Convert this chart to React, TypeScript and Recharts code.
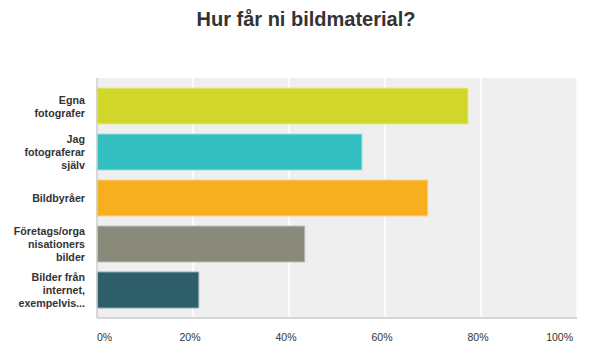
import React from "react";
import { BarChart, Bar, XAxis, YAxis, CartesianGrid, Cell } from "recharts";

const categories = [
  "Egna fotografer",
  "Jag fotograferar själv",
  "Bildbyråer",
  "Företags/organisationers bilder",
  "Bilder från internet, exempelvis...",
];
const categoryLines = [
  ["Egna", "fotografer"],
  ["Jag", "fotograferar", "själv"],
  ["Bildbyråer"],
  ["Företags/orga", "nisationers", "bilder"],
  ["Bilder från", "internet,", "exempelvis..."],
];
const values = [77.3, 55.2, 68.9, 43.3, 21.2];
const colors = ["#D0D62A", "#33BEBF", "#F6AF1F", "#898A79", "#2F5F6B"];
const strokes = ["#E6EA98", "#9EDDDE", "#F9D38C", "#C4C5BB", "#8FA8AE"];
const xTicks = [0, 20, 40, 60, 80, 100];
const title = "Hur får ni bildmaterial?";

const data = categories.map((c, i) => ({ name: c, value: values[i], idx: i }));

const FONT = "'Liberation Sans', Arial, sans-serif";

const YTick = (props: any) => {
  const { x, y, payload } = props;
  const lines = categoryLines[payload.index] || [payload.value];
  const lh = 13;
  const startDy = -((lines.length - 1) * lh) / 2 + 4;
  return (
    <text x={x} y={y} textAnchor="end" fill="#333" fontFamily={FONT} fontSize={10.7} fontWeight="bold">
      {lines.map((l: string, i: number) => (
        <tspan key={i} x={x} dy={i === 0 ? startDy : lh}>
          {l}
        </tspan>
      ))}
    </text>
  );
};

const XTick = (props: any) => {
  const { x, y, payload, index } = props;
  const last = xTicks.length - 1;
  let anchor: "start" | "middle" | "end" = "middle";
  let dx = -3;
  if (index === 0) {
    anchor = "start";
    dx = 0;
  } else if (index === last) {
    anchor = "end";
    dx = -4;
  }
  return (
    <text x={x + dx} y={y + 21} textAnchor={anchor} fill="#333" fontFamily={FONT} fontSize={10.5}>
      {payload.value}%
    </text>
  );
};

export default function App() {
  return (
    <div style={{ position: "absolute", left: 0, top: 0, width: 605, height: 358, background: "#fff" }}>
      <div
        style={{
          position: "absolute",
          left: 0,
          top: 9,
          width: 612,
          textAlign: "center",
          fontFamily: FONT,
          fontWeight: "bold",
          fontSize: 20,
          lineHeight: "20px",
          color: "#333",
        }}
      >
        {title}
      </div>
      <BarChart
        width={605}
        height={358}
        data={data}
        layout="vertical"
        margin={{ top: 78, right: 28, bottom: 0, left: 0 }}
      >
        <CartesianGrid horizontal={false} vertical={true} fill="#EFEFEF" stroke="#FFFFFF" strokeWidth={1.5} />
        <XAxis
          type="number"
          domain={[0, 100]}
          ticks={xTicks}
          interval={0}
          height={40}
          axisLine={{ stroke: "#CCCCCC", strokeWidth: 1.5 }}
          tickLine={false}
          tickSize={0}
          tick={<XTick />}
        />
        <YAxis
          type="category"
          dataKey="name"
          width={97}
          interval={0}
          padding={{ top: 5, bottom: 5 }}
          axisLine={{ stroke: "#CCCCCC", strokeWidth: 1.5 }}
          tickLine={false}
          tickSize={0}
          tickMargin={12}
          tick={<YTick />}
        />
        <Bar dataKey="value" barSize={36} isAnimationActive={false}>
          {data.map((d, i) => (
            <Cell key={i} fill={colors[i]} stroke={strokes[i]} strokeWidth={1} />
          ))}
        </Bar>
      </BarChart>
    </div>
  );
}
